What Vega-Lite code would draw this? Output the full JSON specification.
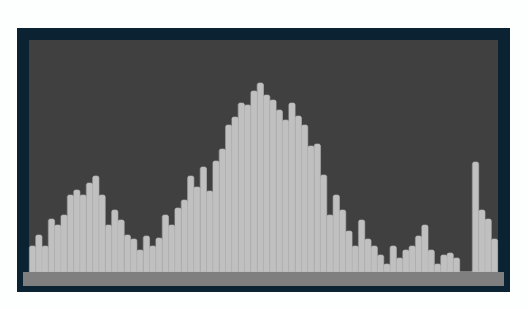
{
  "$schema": "https://vega.github.io/schema/vega-lite/v6.json",
  "width": 481,
  "height": 252,
  "autosize": {"type": "none"},
  "padding": {"left": 23, "top": 34, "right": 24, "bottom": 24},
  "background": "#fdfefe",
  "config": {
    "view": {"fill": "#404040", "stroke": "#0b2232", "strokeWidth": 12}
  },
  "data": {
    "values": [
      {"bin": 1, "count": 26}, {"bin": 2, "count": 37}, {"bin": 3, "count": 26}, {"bin": 4, "count": 53},
      {"bin": 5, "count": 47}, {"bin": 6, "count": 57}, {"bin": 7, "count": 77}, {"bin": 8, "count": 82},
      {"bin": 9, "count": 77}, {"bin": 10, "count": 89}, {"bin": 11, "count": 96}, {"bin": 12, "count": 77},
      {"bin": 13, "count": 47}, {"bin": 14, "count": 62}, {"bin": 15, "count": 52}, {"bin": 16, "count": 37},
      {"bin": 17, "count": 33}, {"bin": 18, "count": 22}, {"bin": 19, "count": 36}, {"bin": 20, "count": 26},
      {"bin": 21, "count": 34}, {"bin": 22, "count": 57}, {"bin": 23, "count": 47}, {"bin": 24, "count": 64},
      {"bin": 25, "count": 72}, {"bin": 26, "count": 96}, {"bin": 27, "count": 85}, {"bin": 28, "count": 105},
      {"bin": 29, "count": 81}, {"bin": 30, "count": 111}, {"bin": 31, "count": 123}, {"bin": 32, "count": 147},
      {"bin": 33, "count": 155}, {"bin": 34, "count": 169}, {"bin": 35, "count": 167}, {"bin": 36, "count": 181},
      {"bin": 37, "count": 189}, {"bin": 38, "count": 177}, {"bin": 39, "count": 172}, {"bin": 40, "count": 162},
      {"bin": 41, "count": 152}, {"bin": 42, "count": 169}, {"bin": 43, "count": 156}, {"bin": 44, "count": 147},
      {"bin": 45, "count": 126}, {"bin": 46, "count": 128}, {"bin": 47, "count": 97}, {"bin": 48, "count": 57},
      {"bin": 49, "count": 77}, {"bin": 50, "count": 62}, {"bin": 51, "count": 41}, {"bin": 52, "count": 26},
      {"bin": 53, "count": 52}, {"bin": 54, "count": 33}, {"bin": 55, "count": 26}, {"bin": 56, "count": 17},
      {"bin": 57, "count": 8}, {"bin": 58, "count": 26}, {"bin": 59, "count": 14}, {"bin": 60, "count": 22},
      {"bin": 61, "count": 26}, {"bin": 62, "count": 36}, {"bin": 63, "count": 47}, {"bin": 64, "count": 22},
      {"bin": 65, "count": 8}, {"bin": 66, "count": 17}, {"bin": 67, "count": 19}, {"bin": 68, "count": 14},
      {"bin": 69, "count": 0}, {"bin": 70, "count": 0}, {"bin": 71, "count": 110}, {"bin": 72, "count": 62},
      {"bin": 73, "count": 53}, {"bin": 74, "count": 33}
    ]
  },
  "layer": [
    {
      "mark": {"type": "bar", "color": "#c0c0c0", "stroke": "#bababa", "strokeWidth": 0.6,
               "cornerRadiusTopLeft": 2, "cornerRadiusTopRight": 2},
      "encoding": {
        "x": {"field": "bin", "type": "ordinal", "axis": null,
              "scale": {"paddingInner": 0, "paddingOuter": 1.4}},
        "y": {"field": "count", "type": "quantitative", "axis": null,
              "scale": {"domain": [-14, 238], "nice": false, "zero": false}}
      }
    },
    {
      "mark": {"type": "rect", "color": "#7f7f7f"},
      "encoding": {
        "y": {"datum": -14, "type": "quantitative"},
        "y2": {"datum": 0}
      }
    }
  ]
}
